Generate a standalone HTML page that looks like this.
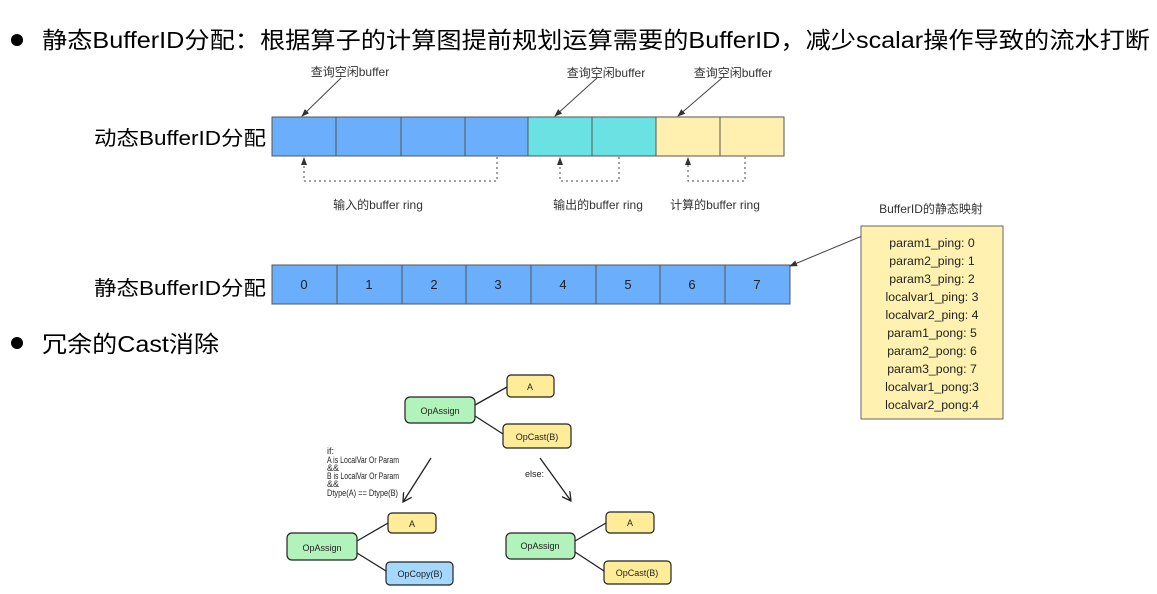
<!DOCTYPE html>
<html><head><meta charset="utf-8"><style>
body{margin:0;background:#fff;width:1157px;height:594px;overflow:hidden}
svg{display:block}
.t{font-family:"Liberation Sans","Noto Sans CJK SC",sans-serif}
.h{font-family:"Comic Sans MS","Liberation Sans",sans-serif;font-size:9px;fill:#222}
</style></head><body>
<svg width="1157" height="594" xmlns="http://www.w3.org/2000/svg" class="t">
<defs>
<marker id="ah" markerWidth="8" markerHeight="8" refX="7" refY="4" orient="auto" markerUnits="userSpaceOnUse"><path d="M0,1 L8,4 L0,7 Z" fill="#333"/></marker>
<marker id="ah2" markerWidth="10" markerHeight="10" refX="9" refY="5" orient="auto" markerUnits="userSpaceOnUse"><path d="M0,0 L9,5 L0,10" fill="none" stroke="#222" stroke-width="1.3"/></marker>
</defs>
<circle cx="17" cy="40" r="6" fill="#000"/>
<text x="42" y="48" font-size="23" textLength="1108" lengthAdjust="spacingAndGlyphs">静态BufferID分配：根据算子的计算图提前规划运算需要的BufferID，减少scalar操作导致的流水打断</text>
<circle cx="17" cy="343" r="6" fill="#000"/>
<text x="42" y="352" font-size="23" textLength="177" lengthAdjust="spacingAndGlyphs">冗余的Cast消除</text>

<text x="94" y="145" font-size="20" textLength="172" lengthAdjust="spacingAndGlyphs">动态BufferID分配</text>
<text x="94" y="295" font-size="20" textLength="172" lengthAdjust="spacingAndGlyphs">静态BufferID分配</text>

<g stroke="#555" stroke-width="1">
<rect x="272" y="117" width="256" height="39" fill="#6aaefc"/>
<rect x="528" y="117" width="128" height="39" fill="#6ae2e4"/>
<rect x="656" y="117" width="128" height="39" fill="#fff0b0"/>
<line x1="336" y1="117" x2="336" y2="156"/><line x1="401" y1="117" x2="401" y2="156"/><line x1="465" y1="117" x2="465" y2="156"/>
<line x1="592" y1="117" x2="592" y2="156"/><line x1="720" y1="117" x2="720" y2="156"/>
<rect x="272" y="265" width="518" height="39" fill="#6aaefc"/>
<line x1="337" y1="265" x2="337" y2="304"/><line x1="402" y1="265" x2="402" y2="304"/><line x1="466" y1="265" x2="466" y2="304"/><line x1="531" y1="265" x2="531" y2="304"/><line x1="596" y1="265" x2="596" y2="304"/><line x1="660" y1="265" x2="660" y2="304"/><line x1="725" y1="265" x2="725" y2="304"/>
</g>
<g font-size="13" fill="#222" text-anchor="middle">
<text x="304" y="289">0</text><text x="369" y="289">1</text><text x="434" y="289">2</text><text x="498" y="289">3</text><text x="563" y="289">4</text><text x="628" y="289">5</text><text x="692" y="289">6</text><text x="757" y="289">7</text>
</g>
<g font-size="12" fill="#333" text-anchor="middle">
<text x="350" y="76">查询空闲buffer</text>
<text x="606" y="77">查询空闲buffer</text>
<text x="733" y="77">查询空闲buffer</text>
<text x="378" y="209">输入的buffer ring</text>
<text x="598" y="209">输出的buffer ring</text>
<text x="715" y="209">计算的buffer ring</text>
<text x="931" y="213">BufferID的静态映射</text>
</g>
<g stroke="#444" stroke-width="1" fill="none">
<line x1="341" y1="78" x2="302" y2="116" marker-end="url(#ah)"/>
<line x1="597" y1="78" x2="555" y2="116" marker-end="url(#ah)"/>
<line x1="722" y1="78" x2="678" y2="116" marker-end="url(#ah)"/>
<line x1="862" y1="236" x2="790" y2="266" marker-end="url(#ah)"/>
<g stroke-dasharray="2,3">
<polyline points="497,157 497,181 304,181 304,158" marker-end="url(#ah)"/>
<polyline points="619,157 619,181 560,181 560,158" marker-end="url(#ah)"/>
<polyline points="745,157 745,181 688,181 688,158" marker-end="url(#ah)"/>
</g>
</g>
<rect x="861" y="226" width="142" height="193" fill="#fff2b0" stroke="#666"/>
<g font-size="12.3" fill="#222" text-anchor="middle">
<text x="932" y="247">param1_ping:  0</text>
<text x="932" y="265">param2_ping:  1</text>
<text x="932" y="283">param3_ping:  2</text>
<text x="932" y="301">localvar1_ping: 3</text>
<text x="932" y="319">localvar2_ping: 4</text>
<text x="932" y="337">param1_pong: 5</text>
<text x="932" y="355">param2_pong: 6</text>
<text x="932" y="373">param3_pong: 7</text>
<text x="932" y="391">localvar1_pong:3</text>
<text x="932" y="409">localvar2_pong:4</text>
</g>

<g stroke="#222" stroke-width="1.3">
<line x1="475" y1="405" x2="507" y2="387"/><line x1="475" y1="416" x2="503" y2="434"/>
<line x1="357" y1="541" x2="388" y2="523"/><line x1="357" y1="553" x2="386" y2="571"/>
<line x1="575" y1="541" x2="606" y2="523"/><line x1="575" y1="552" x2="604" y2="571"/>
<line x1="431" y1="458" x2="403" y2="502" marker-end="url(#ah2)"/>
<line x1="540" y1="458" x2="571" y2="501" marker-end="url(#ah2)"/>
</g>
<g stroke="#222" stroke-width="1.2">
<rect x="405" y="397" width="70" height="26" rx="5" fill="#b2f2bb"/>
<rect x="507" y="375" width="47" height="22" rx="4" fill="#ffec99"/>
<rect x="503" y="424" width="68" height="24" rx="4" fill="#ffec99"/>
<rect x="287" y="533" width="70" height="27" rx="5" fill="#b2f2bb"/>
<rect x="388" y="513" width="48" height="20" rx="4" fill="#ffec99"/>
<rect x="386" y="562" width="67" height="23" rx="4" fill="#a5d8ff"/>
<rect x="506" y="533" width="69" height="26" rx="5" fill="#b2f2bb"/>
<rect x="606" y="512" width="48" height="21" rx="4" fill="#ffec99"/>
<rect x="604" y="561" width="67" height="23" rx="4" fill="#ffec99"/>
</g>
<g class="h" text-anchor="middle">
<text x="440" y="414">OpAssign</text>
<text x="530" y="390">A</text>
<text x="537" y="440">OpCast(B)</text>
<text x="322" y="551">OpAssign</text>
<text x="412" y="527">A</text>
<text x="420" y="577">OpCopy(B)</text>
<text x="540" y="549">OpAssign</text>
<text x="630" y="526">A</text>
<text x="637" y="576">OpCast(B)</text>
</g>
<g class="h" font-size="6.5">
<text x="327" y="454">if:</text>
<text x="327" y="463" textLength="72" lengthAdjust="spacingAndGlyphs">A is LocalVar Or Param</text>
<text x="327" y="471">&amp;&amp;</text>
<text x="327" y="479" textLength="72" lengthAdjust="spacingAndGlyphs">B is LocalVar Or Param</text>
<text x="327" y="487">&amp;&amp;</text>
<text x="327" y="496" textLength="71" lengthAdjust="spacingAndGlyphs">Dtype(A) == Dtype(B)</text>
<text x="525" y="477">else:</text>
</g>
</svg>
</body></html>
